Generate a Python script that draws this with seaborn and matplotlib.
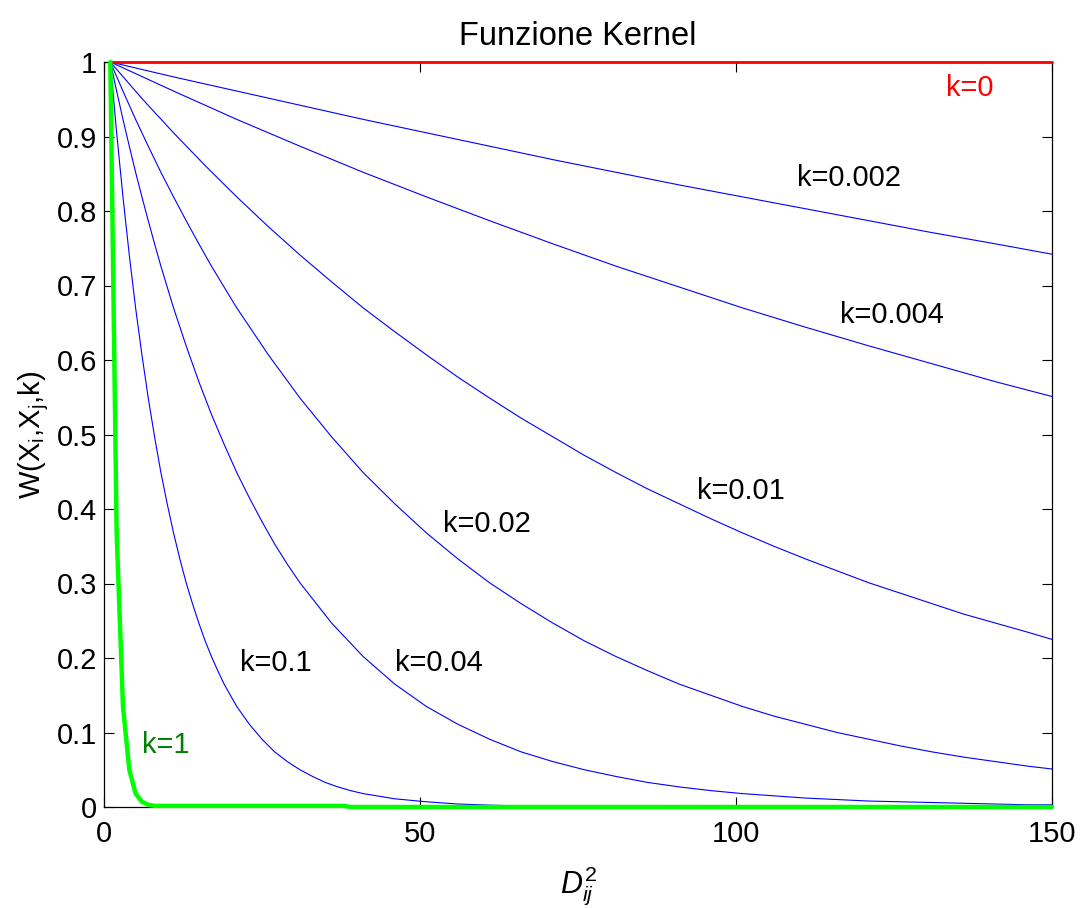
import matplotlib
matplotlib.use("Agg")
import matplotlib.pyplot as plt
import seaborn as sns
import pandas as pd

# ---- data ----
d2_k0002 = [1, 11, 21, 31, 41, 51, 61, 71, 81, 91, 101, 111, 121, 131, 141, 150]
w_k0002 = [1, .980, .961, .942, .923, .905, .887, .869, .852, .835, .819, .803, .787, .771, .756, .742]

d2_k0004 = [1, 11, 21, 31, 41, 51, 61, 71, 81, 91, 101, 111, 121, 131, 141, 150]
w_k0004 = [1, .961, .923, .887, .852, .819, .787, .756, .726, .698, .670, .644, .619, .595, .571, .551]

d2_k001 = [1, 6, 11, 16, 21, 26, 31, 36, 41, 46, 51, 56, 61, 66, 71, 76, 81, 86, 91, 96,
           101, 106, 111, 116, 121, 126, 131, 136, 141, 146, 150]
w_k001 = [1, .951, .905, .861, .819, .779, .741, .705, .670, .638, .607, .577, .549, .522, .497, .472,
          .449, .427, .407, .387, .368, .350, .333, .317, .301, .287, .273, .259, .247, .235, .225]

d2_k002 = [1, 3, 5, 7, 9, 11, 13, 15, 17, 19, 21, 26, 31, 36, 41, 46, 51, 56, 61, 66, 71, 76,
           81, 86, 91, 96, 101, 106, 111, 116, 121, 126, 131, 136, 141, 146, 150]
w_k002 = [1, .961, .923, .887, .852, .819, .787, .756, .726, .698, .670, .607, .549, .497, .449, .407,
          .368, .333, .301, .273, .247, .223, .202, .183, .165, .150, .135, .122, .111, .100, .091,
          .082, .074, .067, .061, .055, .051]

d2_k004 = [1, 2, 3, 4, 5, 6, 7, 8, 9, 10, 11, 13, 15, 17, 19, 21, 23, 25, 27, 29, 31,
           36, 41, 46, 51, 56, 61, 66, 71, 76, 81, 86, 91, 96, 101, 106, 111, 116, 121, 126,
           131, 136, 141, 146, 150]
w_k004 = [1, .961, .923, .887, .852, .819, .787, .756, .726, .698, .670, .619, .571, .527, .487, .449,
          .415, .383, .353, .326, .301, .247, .202, .165, .135, .111, .091, .074, .061, .050, .041,
          .033, .027, .022, .018, .015, .012, .010, .008, .007, .006, .005, .004, .003, .003]

d2_k01 = [1, 2, 3, 4, 5, 6, 7, 8, 9, 10, 11, 12, 13, 14, 15, 16, 17, 18, 19, 20, 21,
          23, 25, 27, 29, 31, 33, 35, 37, 39, 41, 46, 51, 56, 61, 66, 71, 150]
w_k01 = [1, .905, .819, .741, .670, .607, .549, .497, .449, .407, .368, .333, .301, .273, .247, .223,
         .202, .183, .165, .150, .135, .111, .091, .074, .061, .050, .041, .033, .027, .022, .018,
         .011, .007, .004, .0025, .0015, .001, 0]

d2_k1 = [1, 2, 3, 4, 5, 6, 7, 8, 38, 39, 150]
w_k1 = [1, .368, .135, .050, .018, .007, .003, .0015, .0015, 0, 0]

d2_k0 = [1, 150]
w_k0 = [1, 1]

blue_names = ["k=0.002", "k=0.004", "k=0.01", "k=0.02", "k=0.04", "k=0.1"]
blue_x = [d2_k0002, d2_k0004, d2_k001, d2_k002, d2_k004, d2_k01]
blue_values = [w_k0002, w_k0004, w_k001, w_k002, w_k004, w_k01]

label_texts = ["k=0", "k=0.002", "k=0.004", "k=0.01", "k=0.02", "k=0.04", "k=0.1", "k=1"]
label_x = [133.2, 109.7, 116.4, 93.8, 53.7, 46.1, 21.5, 6.0]
label_y = [0.954, 0.834, 0.649, 0.413, 0.369, 0.183, 0.183, 0.073]
label_colors = ["#FF0000", "black", "black", "black", "black", "black", "black", "#008000"]

xticks = [0, 50, 100, 150]
yticks = [0, 0.1, 0.2, 0.3, 0.4, 0.5, 0.6, 0.7, 0.8, 0.9, 1]
ytick_labels = ["0", "0.1", "0.2", "0.3", "0.4", "0.5", "0.6", "0.7", "0.8", "0.9", "1"]

# ---- style ----
sns.set_theme(style="white")
plt.rcParams["font.family"] = ["Liberation Sans", "DejaVu Sans"]
plt.rcParams["mathtext.fontset"] = "custom"
plt.rcParams["mathtext.rm"] = "Liberation Sans"
plt.rcParams["mathtext.it"] = "Liberation Sans:italic"
plt.rcParams["mathtext.bf"] = "Liberation Sans:bold"
plt.rcParams["text.color"] = "black"
plt.rcParams["axes.labelcolor"] = "black"
plt.rcParams["axes.titlecolor"] = "black"
FS = 21

fig = plt.figure(figsize=(10.82, 9.08), dpi=100)
ax = fig.add_axes([104 / 1082, 1 - 807 / 908, (1052 - 104) / 1082, (807 - 62) / 908])

frames = []
for name, xs, vals in zip(blue_names, blue_x, blue_values):
    frames.append(pd.DataFrame({"D2": xs, "W": vals, "k": name}))
df_blue = pd.concat(frames, ignore_index=True)

sns.lineplot(data=df_blue, x="D2", y="W", units="k", estimator=None, sort=False,
             color="#0000FF", linewidth=0.8, ax=ax, legend=False)
sns.lineplot(x=d2_k0, y=w_k0, color="#FF0000", linewidth=2.0, ax=ax, legend=False,
             estimator=None, sort=False)
sns.lineplot(x=d2_k1, y=w_k1, color="#00FF00", linewidth=3.2, ax=ax, legend=False,
             estimator=None, sort=False)
for ln in ax.get_lines():
    ln.set_clip_on(False)
    ln.set_solid_joinstyle("round")
    ln.set_zorder(3)

for t, x, y, c in zip(label_texts, label_x, label_y, label_colors):
    ax.text(x, y, t, color=c, fontsize=FS, ha="left", va="baseline")

ax.set_xlim(0, 150)
ax.set_ylim(0, 1)
ax.set_xticks(xticks)
ax.set_xticklabels([str(v) for v in xticks])
ax.set_yticks(yticks)
ax.set_yticklabels(ytick_labels)
ax.tick_params(axis="both", which="both", direction="in", length=7, width=0.8,
               colors="black", labelsize=FS, top=True, right=True, bottom=True, left=True)
ax.tick_params(axis="x", pad=9)
ax.tick_params(axis="y", pad=5)
for sp in ax.spines.values():
    sp.set_visible(True)
    sp.set_color("black")
    sp.set_linewidth(0.9)

ax.set_title("Funzione Kernel", fontsize=23.5, pad=12, color="black")
ax.set_xlabel(r"$D^2_{ij}$", fontsize=22, labelpad=12, color="black")
ax.set_ylabel(r"W(X$_\mathregular{i}$,X$_\mathregular{j}$,k)", fontsize=FS, labelpad=4, color="black")

fig.savefig("out.png", dpi=100, facecolor="white")
